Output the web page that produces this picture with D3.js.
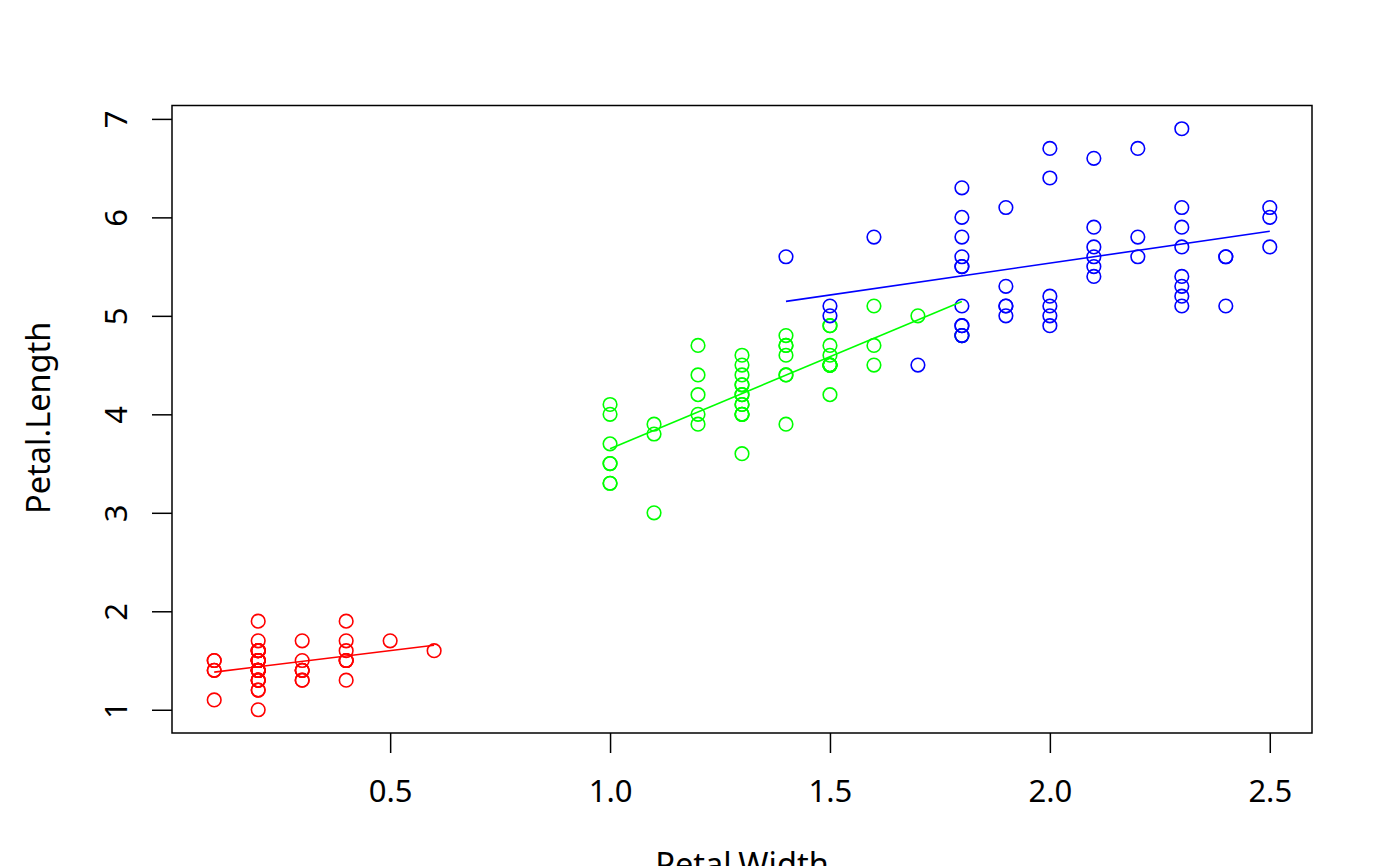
<!DOCTYPE html>
<html>
<head>
<meta charset="utf-8">
<script src="https://cdn.jsdelivr.net/npm/d3@7"></script>
<style>
html,body{margin:0;padding:0;background:#fff;overflow:hidden;}
text{font-family:"Noto Sans","Open Sans",sans-serif;fill:#000;}
</style>
</head>
<body>
<svg id="chart" width="1400" height="866"></svg>
<script>
// Iris data: Petal.Width (x) and Petal.Length (y) by species
const species = ["setosa", "versicolor", "virginica"];
const speciesColors = ["#FF0000", "#00FF00", "#0000FF"];

const setosaWidth = [0.2,0.2,0.2,0.2,0.2,0.4,0.3,0.2,0.2,0.1,0.2,0.2,0.1,0.1,0.2,0.4,0.4,0.3,0.3,0.3,0.2,0.4,0.2,0.5,0.2,0.2,0.4,0.2,0.2,0.2,0.2,0.4,0.1,0.2,0.2,0.2,0.2,0.1,0.2,0.2,0.3,0.3,0.2,0.6,0.4,0.3,0.2,0.2,0.2,0.2];
const setosaLength = [1.4,1.4,1.3,1.5,1.4,1.7,1.4,1.5,1.4,1.5,1.5,1.6,1.4,1.1,1.2,1.5,1.3,1.4,1.7,1.5,1.7,1.5,1.0,1.7,1.9,1.6,1.6,1.5,1.4,1.6,1.6,1.5,1.5,1.4,1.5,1.2,1.3,1.4,1.3,1.5,1.3,1.3,1.3,1.6,1.9,1.4,1.6,1.4,1.5,1.4];

const versicolorWidth = [1.4,1.5,1.5,1.3,1.5,1.3,1.6,1.0,1.3,1.4,1.0,1.5,1.0,1.4,1.3,1.4,1.5,1.0,1.5,1.1,1.8,1.3,1.5,1.2,1.3,1.4,1.4,1.7,1.5,1.0,1.1,1.0,1.2,1.6,1.5,1.6,1.5,1.3,1.3,1.3,1.2,1.4,1.2,1.0,1.3,1.2,1.3,1.3,1.1,1.3];
const versicolorLength = [4.7,4.5,4.9,4.0,4.6,4.5,4.7,3.3,4.6,3.9,3.5,4.2,4.0,4.7,3.6,4.4,4.5,4.1,4.5,3.9,4.8,4.0,4.9,4.7,4.3,4.4,4.8,5.0,4.5,3.5,3.8,3.7,3.9,5.1,4.5,4.5,4.7,4.4,4.1,4.0,4.4,4.6,4.0,3.3,4.2,4.2,4.2,4.3,3.0,4.1];

const virginicaWidth = [2.5,1.9,2.1,1.8,2.2,2.1,1.7,1.8,1.8,2.5,2.0,1.9,2.1,2.0,2.4,2.3,1.8,2.2,2.3,1.5,2.3,2.0,2.0,1.8,2.1,1.8,1.8,1.8,2.1,1.6,1.9,2.0,2.2,1.5,1.4,2.3,2.4,1.8,1.8,2.1,2.4,2.3,1.9,2.3,2.5,2.3,1.9,2.0,2.3,1.8];
const virginicaLength = [6.0,5.1,5.9,5.6,5.8,6.6,4.5,6.3,5.8,6.1,5.1,5.3,5.5,5.0,5.1,5.3,5.5,6.7,6.9,5.0,5.7,4.9,6.7,4.9,5.7,6.0,4.8,4.9,5.6,5.8,6.1,6.4,5.6,5.1,5.6,6.1,5.6,5.5,4.8,5.4,5.6,5.1,5.1,5.9,5.7,5.2,5.0,5.2,5.4,5.1];

const xTicks = [0.5, 1.0, 1.5, 2.0, 2.5];
const yTicks = [1, 2, 3, 4, 5, 6, 7];
const xLabel = "Petal.Width";
const yLabel = "Petal.Length";

const groups = [
  {name: species[0], x: setosaWidth, y: setosaLength, color: speciesColors[0]},
  {name: species[1], x: versicolorWidth, y: versicolorLength, color: speciesColors[1]},
  {name: species[2], x: virginicaWidth, y: virginicaLength, color: speciesColors[2]}
];

const allX = [].concat(setosaWidth, versicolorWidth, virginicaWidth);
const allY = [].concat(setosaLength, versicolorLength, virginicaLength);

// R-style 4% range extension
function ext(arr){const lo=d3.min(arr),hi=d3.max(arr),d=(hi-lo)*0.04;return [lo-d,hi+d];}

const pLeft = 172, pRight = 1312, pTop = 105.5, pBottom = 733;
const x = d3.scaleLinear().domain(ext(allX)).range([pLeft, pRight]);
const y = d3.scaleLinear().domain(ext(allY)).range([pBottom, pTop]);

const svg = d3.select("#chart");
const tickFont = 31;
const labelFont = 32.5;

// Plot box
svg.append("rect").attr("x", pLeft).attr("y", pTop).attr("width", pRight-pLeft).attr("height", pBottom-pTop)
  .attr("fill", "none").attr("stroke", "#000").attr("stroke-width", 1.5);

// X axis
const xAxis = d3.axisBottom(x).tickValues(xTicks).tickFormat(d3.format(".1f")).tickSize(20).tickPadding(0);
const gx = svg.append("g").attr("transform", `translate(0,${pBottom})`).call(xAxis);
gx.select(".domain").remove();
gx.selectAll(".tick line").attr("stroke", "#000").attr("stroke-width", 1.5);
gx.selectAll(".tick text").attr("font-size", tickFont).attr("font-family", "Noto Sans").attr("y", 68.7).attr("dy", null).attr("fill", "#000");

// Y axis
const yAxis = d3.axisLeft(y).tickValues(yTicks).tickFormat(d3.format("d")).tickSize(20).tickPadding(0);
const gy = svg.append("g").attr("transform", `translate(${pLeft},0)`).call(yAxis);
gy.select(".domain").remove();
gy.selectAll(".tick line").attr("stroke", "#000").attr("stroke-width", 1.5);
gy.selectAll(".tick text").attr("font-size", tickFont).attr("font-family", "Noto Sans")
  .attr("x", null).attr("dy", null).attr("y", null)
  .attr("text-anchor", "middle")
  .attr("transform", "translate(-45,0) rotate(-90)")
  .attr("fill", "#000");

// Axis titles
svg.append("text").attr("x", (pLeft+pRight)/2).attr("y", 876).attr("text-anchor", "middle")
  .attr("font-size", labelFont).text(xLabel);
svg.append("text").attr("transform", `translate(50,${(pTop+pBottom)/2 - 1.5}) rotate(-90)`).attr("text-anchor", "middle")
  .attr("font-size", labelFont).text(yLabel);

// Points
groups.forEach(g => {
  svg.append("g").selectAll("circle").data(g.x.map((v,i)=>[v,g.y[i]])).join("circle")
    .attr("cx", d => x(d[0])).attr("cy", d => y(d[1])).attr("r", 6.8)
    .attr("fill", "none").attr("stroke", g.color).attr("stroke-width", 1.6);
});

// Least-squares regression line per species, drawn over the species' x range
groups.forEach(g => {
  const mx = d3.mean(g.x), my = d3.mean(g.y);
  let sxy = 0, sxx = 0;
  g.x.forEach((v,i)=>{sxy += (v-mx)*(g.y[i]-my); sxx += (v-mx)*(v-mx);});
  const b = sxy/sxx, a = my - b*mx;
  const [x0, x1] = d3.extent(g.x);
  svg.append("line").attr("x1", x(x0)).attr("y1", y(a+b*x0)).attr("x2", x(x1)).attr("y2", y(a+b*x1))
    .attr("stroke", g.color).attr("stroke-width", 1.6);
});
</script>
</body>
</html>
